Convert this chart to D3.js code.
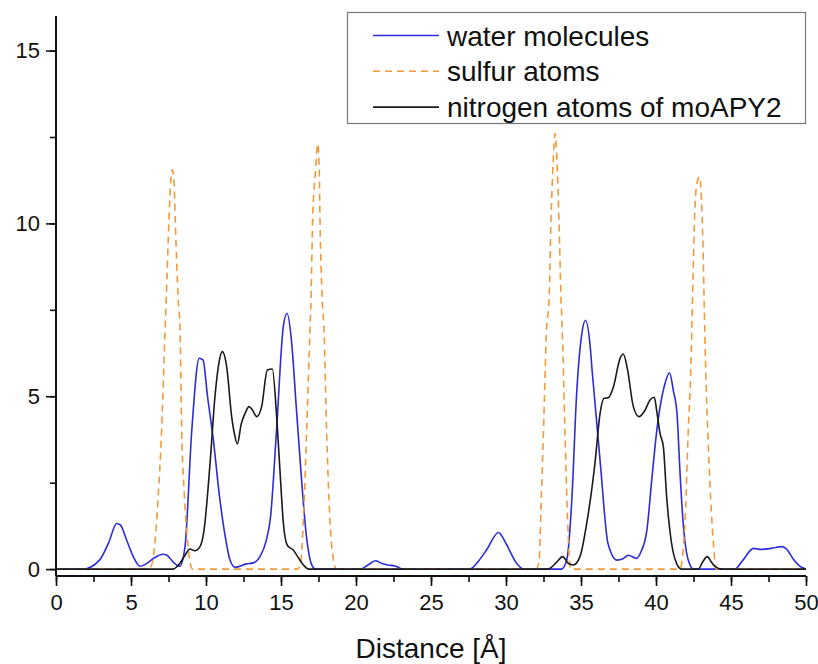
<!DOCTYPE html>
<html>
<head>
<meta charset="utf-8">
<script src="https://cdn.jsdelivr.net/npm/d3@7"></script>
<style>
  body { margin: 0; background: #fff; }
  svg { display: block; font-family: "Liberation Sans", Arial, sans-serif; }
</style>
</head>
<body>
<svg></svg>
<script>
// water molecules
const waterX = [0, 1.8, 2.9, 3.5, 4.05, 4.3, 4.7, 5.15, 5.6, 6.0, 6.5, 7.15, 7.4, 7.8, 8.25, 8.6, 9.05, 9.55, 9.8, 10.1, 10.5, 10.9, 11.3, 11.6, 11.95, 12.7, 13.15, 13.6, 14.0, 14.3, 14.7, 15.15, 15.4, 15.7, 16.0, 16.3, 16.7, 17.05, 17.3, 20.3, 20.8, 21.3, 21.7, 22.1, 22.6, 23.15, 27.6, 28.2, 28.7, 29.5, 30.0, 30.7, 31.2, 33.7, 34.05, 34.4, 34.7, 35.05, 35.3, 35.6, 35.75, 36.3, 36.8, 37.4, 37.8, 38.15, 38.7, 39.0, 39.4, 39.7, 40.05, 40.6, 40.9, 41.15, 41.4, 41.6, 41.8, 42.15, 42.5, 45.25, 45.8, 46.5, 47.0, 47.7, 48.4, 48.7, 49.2, 49.6, 50];
const waterY = [0, 0, 0.26, 0.75, 1.32, 1.27, 0.85, 0.36, 0.08, 0.15, 0.31, 0.43, 0.4, 0.21, 0.08, 0.65, 4.0, 6.1, 6.05, 5.0, 3.7, 2.1, 0.9, 0.26, 0.05, 0.15, 0.18, 0.36, 0.8, 1.5, 4.0, 7.0, 7.4, 6.6, 4.8, 3.0, 0.93, 0.12, 0, 0, 0.12, 0.24, 0.17, 0.12, 0.09, 0, 0, 0.25, 0.55, 1.06, 0.74, 0.17, 0, 0, 0.26, 2.1, 5.0, 6.8, 7.2, 6.5, 5.7, 3.0, 0.74, 0.26, 0.3, 0.4, 0.31, 0.5, 1.15, 2.5, 4.0, 5.37, 5.68, 5.18, 4.5, 2.8, 1.4, 0.26, 0, 0, 0.26, 0.6, 0.57, 0.6, 0.65, 0.58, 0.26, 0.08, 0];

// sulfur atoms
const sulfurX = [0, 6.2, 6.4, 6.6, 6.8, 7.04, 7.27, 7.35, 7.53, 7.65, 7.75, 7.87, 7.95, 8.15, 8.27, 8.38, 8.55, 8.71, 8.9, 9.1, 16.1, 16.3, 16.5, 16.71, 16.93, 17.0, 17.11, 17.3, 17.45, 17.55, 17.6, 17.75, 17.87, 18.04, 18.2, 18.38, 18.7, 32.0, 32.2, 32.35, 32.5, 32.7, 32.87, 33.0, 33.15, 33.27, 33.4, 33.53, 33.67, 33.75, 33.93, 34.1, 34.3, 41.6, 41.75, 41.95, 42.15, 42.3, 42.4, 42.5, 42.6, 42.75, 42.9, 43.05, 43.15, 43.22, 43.3, 43.45, 43.65, 43.85, 44.0, 50];
const sulfurY = [0, 0, 0.15, 0.8, 2, 4, 6.9, 7.8, 10.1, 11.2, 11.55, 11.2, 10.1, 7.8, 6.9, 4, 2.2, 1.13, 0.3, 0, 0, 0.15, 1.5, 4, 6.9, 7.8, 10.1, 11.5, 12.3, 11.5, 10.1, 7.8, 6.9, 4, 2, 0.65, 0, 0, 0.2, 2, 4, 6.9, 7.8, 10.1, 11.8, 12.6, 11.8, 10.1, 7.8, 6.9, 4, 1.5, 0, 0, 0.3, 1.5, 4, 5.5, 7.2, 9, 10.5, 11.2, 11.35, 10.5, 9, 7.5, 6, 4, 2, 0.6, 0, 0];

// nitrogen atoms of moAPY2
const nitrogenX = [0, 7.8, 8.25, 8.6, 8.93, 9.25, 9.6, 9.87, 10.27, 10.6, 10.82, 11.09, 11.38, 11.71, 11.9, 12.09, 12.35, 12.6, 12.87, 13.1, 13.38, 13.71, 14.09, 14.42, 14.71, 14.93, 15.16, 15.42, 15.82, 16.11, 16.49, 16.85, 32.8, 33.38, 33.78, 34.16, 34.49, 34.93, 35.38, 35.93, 36.27, 36.53, 36.82, 37.16, 37.6, 37.82, 38.09, 38.49, 38.87, 39.27, 39.6, 39.89, 40.04, 40.27, 40.49, 40.71, 41.04, 41.38, 41.71, 42.82, 43.1, 43.42, 43.7, 43.93, 44.4, 50];
const nitrogenY = [0, 0, 0.16, 0.4, 0.58, 0.53, 0.65, 1.13, 3.06, 5.0, 5.85, 6.29, 5.85, 4.41, 3.9, 3.62, 4.2, 4.5, 4.7, 4.6, 4.41, 4.7, 5.76, 5.79, 4.41, 2.86, 1.32, 0.69, 0.55, 0.36, 0.12, 0, 0, 0.2, 0.36, 0.16, 0.12, 0.36, 1.32, 3.06, 4.5, 4.94, 4.96, 5.27, 6.09, 6.22, 5.8, 4.7, 4.41, 4.6, 4.89, 4.97, 4.6, 3.92, 3.54, 2.09, 0.74, 0.16, 0, 0, 0.2, 0.36, 0.2, 0.08, 0, 0];

const seriesNames = ["water molecules", "sulfur atoms", "nitrogen atoms of moAPY2"];
const xTicks = [0, 5, 10, 15, 20, 25, 30, 35, 40, 45, 50];
const yTicks = [0, 5, 10, 15];

const width = 818, height = 664;
const svg = d3.select('svg').attr('width', width).attr('height', height);

const x = d3.scaleLinear().domain([0, 50]).range([56, 806]);
const y = d3.scaleLinear().domain([-0.2, 16]).range([576, 16]);

const series = [
  {name: seriesNames[0], xs: waterX, ys: waterY, color: '#2c2cd8', dash: null},
  {name: seriesNames[1], xs: sulfurX, ys: sulfurY, color: '#f09a3a', dash: '7,5'},
  {name: seriesNames[2], xs: nitrogenX, ys: nitrogenY, color: '#1a1a1a', dash: null}
];

const line = d3.line()
  .x(d => x(d[0]))
  .y(d => y(d[1]))
  .curve(d3.curveMonotoneX);

series.forEach(s => {
  svg.append('path')
    .datum(s.xs.map((v, i) => [v, s.ys[i]]))
    .attr('fill', 'none')
    .attr('stroke', s.color)
    .attr('stroke-width', 1.6)
    .attr('stroke-dasharray', s.dash)
    .attr('d', line);
});

// axes: major ticks labelled, minor ticks at half steps
const xAxis = svg.append('g').attr('transform', 'translate(0,576)')
  .call(d3.axisBottom(x).tickValues(d3.range(0, 50.1, 2.5)).tickSize(6).tickFormat(''));
xAxis.append('g')
  .call(d3.axisBottom(x).tickValues(xTicks).tickSize(10).tickPadding(8));
const yAxis = svg.append('g').attr('transform', 'translate(56,0)')
  .call(d3.axisLeft(y).tickValues(d3.range(0, 16, 2.5)).tickSize(6).tickFormat(''));
yAxis.append('g')
  .call(d3.axisLeft(y).tickValues(yTicks).tickSize(10).tickPadding(6));

svg.selectAll('.domain').remove();
svg.selectAll('.tick line').attr('stroke', '#111').attr('stroke-width', 1.6);
svg.selectAll('.tick text').attr('font-size', 22).attr('fill', '#111')
  .attr('font-family', '"Liberation Sans", Arial, sans-serif');

svg.append('line').attr('x1', 56).attr('x2', 806).attr('y1', 576).attr('y2', 576)
  .attr('stroke', '#111').attr('stroke-width', 2);
svg.append('line').attr('x1', 56).attr('x2', 56).attr('y1', 16).attr('y2', 576)
  .attr('stroke', '#111').attr('stroke-width', 2);

svg.append('text')
  .attr('x', 431).attr('y', 658)
  .attr('text-anchor', 'middle')
  .attr('font-size', 28).attr('fill', '#111')
  .text('Distance [Å]');

// legend
const legend = svg.append('g');
legend.append('rect')
  .attr('x', 347.5).attr('y', 12.5).attr('width', 458).attr('height', 111)
  .attr('fill', '#fff').attr('stroke', '#777').attr('stroke-width', 1.2);
series.forEach((s, i) => {
  const ly = 35.5 + i * 35.8;
  legend.append('line')
    .attr('x1', 373).attr('x2', 439).attr('y1', ly).attr('y2', ly)
    .attr('stroke', s.color).attr('stroke-width', 1.6)
    .attr('stroke-dasharray', s.dash);
  legend.append('text')
    .attr('x', 447).attr('y', ly + 10)
    .attr('font-size', 28).attr('fill', '#111')
    .text(s.name);
});
</script>
</body>
</html>
